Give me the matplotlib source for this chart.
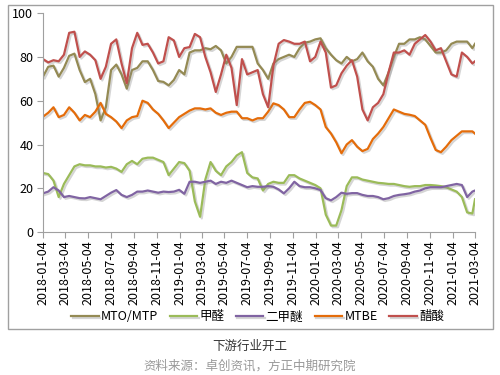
import matplotlib
matplotlib.use("Agg")
import matplotlib.pyplot as plt
import matplotlib.dates as mdates
import matplotlib.patheffects as pe
from matplotlib.patches import Rectangle
import pandas as pd

plt.rcParams['font.family'] = ['Noto Sans CJK SC', 'DejaVu Sans']

# 双周采样，外加最后一期 2021-03-04
dates = list(pd.date_range('2018-01-04', periods=83, freq='14D')) + [pd.Timestamp('2021-03-04')]

mto = [71, 75.5, 76, 71, 75, 80.5, 81.5, 74, 68.5, 70,
       63, 51, 57, 74, 76.5, 72, 65.5, 74, 75, 78,
       78, 74, 69, 68.6, 67, 69.5, 74, 72, 82, 83,
       83, 84, 83.5, 85, 83, 77, 80, 84.6, 84.6, 84.6,
       84.6, 77, 74, 70, 77, 79, 80, 81, 80, 84,
       86.5, 87, 88, 88.5, 84, 81, 78.5, 77, 80, 78,
       79, 82, 78, 75.5, 70, 67, 73, 80, 86, 86,
       88, 88, 89, 88, 85, 82, 82, 83, 86, 87,
       87, 87, 84, 86]

formaldehyde = [27, 26.5, 23.5, 16, 22, 26, 30, 31, 30.5, 30.5,
                30, 30, 29.5, 29.8, 29, 27.5, 31, 32.5, 31, 33.5,
                34, 34, 33, 32, 26, 29, 32, 31.5, 28, 14,
                7, 24, 32, 28, 26, 30, 32, 35, 36.5, 27,
                25, 24.5, 19, 22, 23, 22.5, 22.5, 26, 26, 24.5,
                23.5, 22.5, 21.5, 20, 8, 3, 3, 10, 21, 25,
                25, 24, 23.5, 23, 22.5, 22.3, 22, 22, 21.5, 21,
                20.7, 21, 21, 21.5, 21.5, 21.3, 21, 20.5, 19.5, 18.5,
                16, 9, 8.5, 15]

dme = [17.7, 18.5, 20.5, 19, 16, 16.5, 16, 15.5, 15.4, 16,
       15.5, 15, 16.5, 18, 19.2, 17, 16, 17, 18.5, 18.5,
       19, 18.5, 18, 18.5, 18.3, 18.5, 19.3, 17.5, 23, 23,
       22.5, 23, 23.5, 22, 23, 22.5, 23.5, 22.5, 21.5, 20.5,
       21, 20.7, 20.7, 21, 20.7, 19.5, 17.7, 20, 23, 21,
       20.5, 20.5, 20, 19.2, 15.5, 14.5, 16, 18, 17.5, 17.8,
       17.8, 17, 16.5, 16.5, 16, 15, 15.5, 16.5, 17, 17.3,
       17.7, 18.5, 19, 20, 20.5, 20.5, 20.5, 21, 21.5, 22,
       21.5, 16, 18.5, 19]

mtbe = [52.7, 54.5, 57, 52.5, 53.5, 57, 54.5, 51, 53.5, 52.5,
        55, 59, 54, 52.5, 50.5, 47.5, 51, 52.5, 53, 60,
        59, 56, 54, 51, 47.5, 50, 52.5, 54, 55.5, 56.5,
        56.5, 56, 56.5, 54.5, 53.5, 54.5, 55, 55, 52, 52,
        51, 52, 52, 55, 58.8, 58, 56, 52.5, 52.5, 56,
        59, 59.5, 58, 56, 48, 45, 41, 36, 40, 42,
        39, 37, 38, 42.5, 45, 48, 52, 56, 55, 54,
        53.6, 53, 51, 49, 43, 37.5, 36.5, 39, 42, 44,
        46, 46, 46, 45]

acetic = [79, 77.5, 78.5, 78, 81, 91, 91.5, 80, 82.5, 81,
          78.5, 70, 75.5, 86, 88, 77, 68, 84, 91, 85.5,
          86, 82, 77, 78, 89, 87.5, 80, 84, 84.5, 90.5,
          89, 80, 73, 64, 72, 81, 75, 58, 79, 72,
          73, 74, 63, 57, 76, 86, 87.7, 87, 86, 86,
          87, 78, 80, 87, 82, 66, 67, 72.5, 76, 78.5,
          71, 56, 51, 57, 59, 63, 73, 82, 82, 83,
          81, 86, 88, 90, 87, 83, 84, 78, 72, 71,
          82, 80, 77, 78]

series = [
    ('MTO/MTP', mto, '#948A54'),
    ('甲醛', formaldehyde, '#9BBB59'),
    ('二甲醚', dme, '#8064A2'),
    ('MTBE', mtbe, '#E46C0A'),
    ('醋酸', acetic, '#C0504D'),
]

fig = plt.figure(figsize=(5, 3.75), dpi=100)
ax = fig.add_axes([0.086, 0.381, 0.864, 0.584])

shadow = [pe.SimpleLineShadow(offset=(1.2, -1.2), shadow_color='#888888', alpha=0.35), pe.Normal()]
for name, vals, color in series:
    ax.plot(dates, vals, color=color, linewidth=1.6, label=name, path_effects=shadow)

ax.set_ylim(0, 100)
ax.set_yticks(range(0, 101, 20))
ax.set_xlim(pd.Timestamp('2018-01-04'), pd.Timestamp('2021-03-04'))
ticks = pd.date_range('2018-01-04', '2021-03-04', freq=pd.DateOffset(months=2))
ax.set_xticks(ticks)
ax.xaxis.set_major_formatter(mdates.DateFormatter('%Y-%m-%d'))
ax.tick_params(axis='x', rotation=90, labelsize=9, length=4, color='#A0A0A0', pad=2)
ax.tick_params(axis='y', labelsize=9, length=4, color='#A0A0A0', pad=3)

for s in ['top', 'right']:
    ax.spines[s].set_visible(False)
for s in ['left', 'bottom']:
    ax.spines[s].set_color('#A0A0A0')

fig.legend(loc='center', bbox_to_anchor=(0.515, 0.155), ncol=5, frameon=False,
           fontsize=9, handlelength=2.2, handletextpad=0.2, columnspacing=0.9)

fig.patches.append(Rectangle((0.016, 0.123), 0.97, 0.864, transform=fig.transFigure,
                             fill=False, edgecolor='#A0A0A0', linewidth=1))

fig.text(0.5, 0.077, '下游行业开工', ha='center', va='center', fontsize=9, color='#333333')
fig.text(0.5, 0.024, '资料来源：卓创资讯，方正中期研究院', ha='center', va='center',
         fontsize=9, color='#999999')

fig.savefig('out.png', dpi=100)
